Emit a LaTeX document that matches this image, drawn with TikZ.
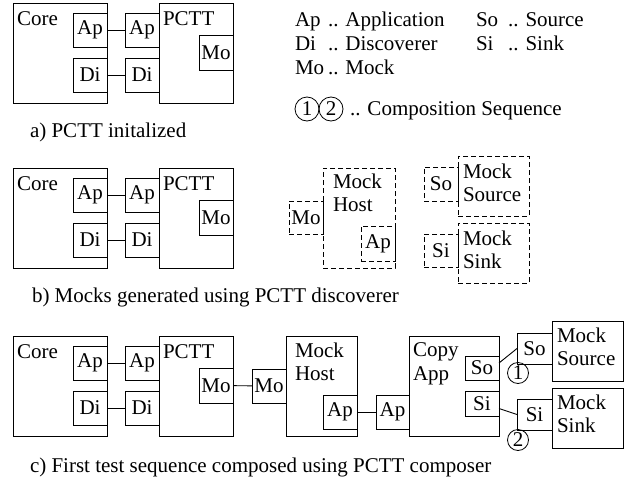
\documentclass[tikz,border=0pt]{standalone}
\usepackage{fontspec}
\setmainfont{Liberation Serif}
\begin{document}
\begin{tikzpicture}[x=1pt,y=-1pt,
  every node/.style={font=\fontsize{21}{24}\selectfont, inner sep=0pt, outer sep=0pt},
  box/.style={draw, line width=0.9pt},
  mbox/.style={box, dash pattern=on 5pt off 3pt},
  sz/.style 2 args={minimum width=#1pt, minimum height=#2pt},
  lbl/.style={anchor=base west},
  wire/.style={line width=0.9pt},
  seq/.style={draw, circle, line width=0.8pt, minimum size=21pt}]
\useasboundingbox (0,0) rectangle (637,482);

% Core and PCTT with their ports; #1 = name suffix, #2 = vertical offset
\newcommand\corepctt[2]{%
  \node[box, sz={94}{100}] (core#1) at (60,{#2+53}) {};
  \node[box, sz={34}{34}] (coreAp#1) at (90,{#2+30}) {Ap};
  \node[box, sz={34}{34}] (coreDi#1) at (90,{#2+75}) {Di};
  \node[box, sz={74}{100}] (pctt#1) at (196,{#2+53}) {};
  \node[box, sz={34}{34}] (pAp#1) at (142,{#2+30}) {Ap};
  \node[box, sz={34}{34}] (pDi#1) at (142,{#2+75}) {Di};
  \node[box, sz={34}{35}] (pMo#1) at (216,{#2+52.5}) {Mo};
  \node[lbl] (coreTxt#1) at (17,{#2+25}) {Core};
  \node[lbl] (pcttTxt#1) at (163,{#2+25}) {PCTT};
  \draw[wire] (coreAp#1) -- (pAp#1);
  \draw[wire] (coreDi#1) -- (pDi#1);
}

% ---- a) initial state
\corepctt{A}{0}
\node[lbl] (capA) at (30,137) {a) PCTT initalized};

% ---- legend
\node[lbl] (lgAp) at (295,26) {Ap};
\node[lbl] (lgApT) at (328,26) {.. Application};
\node[lbl] (lgDi) at (295,50) {Di};
\node[lbl] (lgDiT) at (328,50) {.. Discoverer};
\node[lbl] (lgMo) at (295,74) {Mo};
\node[lbl] (lgMoT) at (328,74) {.. Mock};
\node[lbl] (lgSo) at (476,26) {So};
\node[lbl] (lgSoT) at (508,26) {.. Source};
\node[lbl] (lgSi) at (476,50) {Si};
\node[lbl] (lgSiT) at (508,50) {.. Sink};
\node[seq, minimum size=24pt] (lg1) at (307,109) {1};
\node[seq, minimum size=24pt] (lg2) at (331,109) {2};
\node[lbl] (lgSeqT) at (350,115) {.. Composition Sequence};

% ---- b) generated mocks
\corepctt{B}{165}
\node[mbox, sz={34}{33}] (mockMoB) at (306,217.5) {Mo};
\node[mbox, sz={72}{100}] (hostB) at (359,218) {};
\node[mbox, sz={34}{35}] (hostApB) at (378,243.5) {Ap};
\node[lbl] (hostT1B) at (333,188) {Mock};
\node[lbl] (hostT2B) at (333,211.5) {Host};
\node[mbox, sz={34}{34}] (soB) at (441,184) {So};
\node[mbox, sz={71}{60}] (srcB) at (493.5,186) {};
\node[lbl] (srcT1B) at (463,178.5) {Mock};
\node[lbl] (srcT2B) at (463,201) {Source};
\node[mbox, sz={34}{33}] (siB) at (441,250.5) {Si};
\node[mbox, sz={71}{60}] (sinkB) at (493.5,253) {};
\node[lbl] (sinkT1B) at (463,245) {Mock};
\node[lbl] (sinkT2B) at (463,268) {Sink};
\node[lbl] (capB) at (32,302) {b) Mocks generated using PCTT discoverer};

% ---- c) composed test sequence
\corepctt{C}{333}
\node[box, sz={34}{34}] (hostMoC) at (269,386) {Mo};
\node[box, sz={71}{100}] (hostC) at (321.5,386) {};
\node[lbl] (hostT1C) at (295,357) {Mock};
\node[lbl] (hostT2C) at (295,380.5) {Host};
\node[box, sz={34}{34}] (hostApC) at (340,412) {Ap};
\node[box, sz={33}{34}] (appApC) at (392.5,412) {Ap};
\node[box, sz={90}{100}] (copyC) at (454,386) {};
\node[lbl] (copyT1C) at (413,356.5) {Copy};
\node[lbl] (copyT2C) at (413,380) {App};
\node[box, sz={34}{24}] (soInC) at (482,368) {So};
\node[box, sz={34}{25}] (siInC) at (482,403.5) {Si};
\node[box, sz={35}{31}] (soExtC) at (534.5,348.5) {So};
\node[box, sz={71}{60}] (srcC) at (587.5,351) {};
\node[lbl] (srcT1C) at (557,342) {Mock};
\node[lbl] (srcT2C) at (557,365) {Source};
\node[box, sz={35}{31}] (siExtC) at (534.5,414.5) {Si};
\node[box, sz={71}{60}] (sinkC) at (587.5,418) {};
\node[lbl] (sinkT1C) at (557,409.5) {Mock};
\node[lbl] (sinkT2C) at (557,432) {Sink};
\node[seq] (seq1) at (518,373) {1};
\node[seq] (seq2) at (518,440) {2};
\draw[wire] (pMoC) -- (hostMoC);
\draw[wire] (hostApC) -- (appApC);
\draw[wire] ([yshift=5pt]soInC.east) -- (soExtC.west);
\draw[wire] ([yshift=-5pt]siInC.east) -- (siExtC.west);
\node[lbl] (capC) at (30,472) {c) First test sequence composed using PCTT composer};
\end{tikzpicture}
\end{document}
